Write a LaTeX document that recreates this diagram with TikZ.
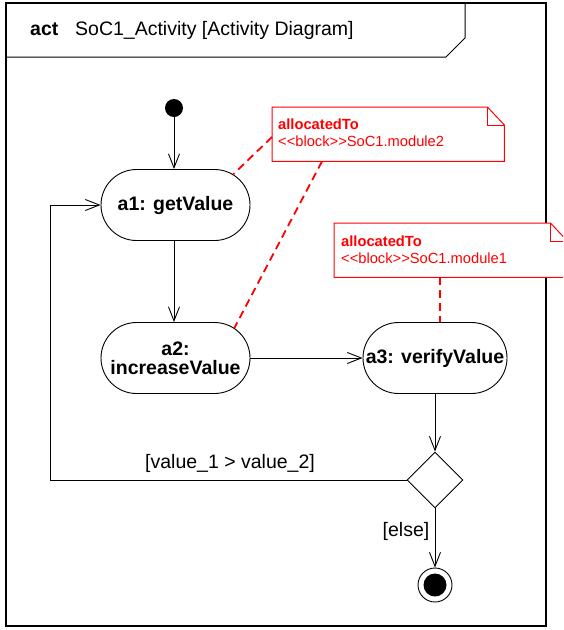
\documentclass[tikz,border=0pt]{standalone}
\usepackage{fontspec}
\setmainfont{Liberation Sans}
\usetikzlibrary{arrows.meta,shapes.geometric,shapes.misc,calc}

\tikzset{
  action/.style={rounded rectangle, draw, line width=0.9pt, minimum width=153pt,
    minimum height=71pt, inner sep=2pt, align=center,
    font=\fontsize{19.5}{21}\selectfont\bfseries},
  flow/.style={draw, line width=0.9pt, -{Straight Barb[length=14pt,width=11pt,line width=0.9pt]}},
  alloc/.style={draw=red, line width=1.8pt, dash pattern=on 8pt off 5pt},
  notebox/.style={draw=none, inner sep=0pt, anchor=north west},
  notetext/.style={anchor=base west, inner sep=0pt, text=red, font=\fontsize{14.7}{16}\selectfont},
  guard/.style={inner sep=0pt, font=\fontsize{19.5}{21}\selectfont},
}

\begin{document}
\begin{tikzpicture}[x=1pt,y=-1pt]
\useasboundingbox (0,0) rectangle (563,630);
\clip (0,0) rectangle (563,630);

% diagram frame and name tab
\draw[line width=1.2pt] (6,3) rectangle (546,626);
\draw[line width=1pt] (6,57) -- (446,57) -- (465,38) -- (465,3);
\node[anchor=base west, inner sep=0pt, font=\fontsize{19.5}{21}\selectfont\bfseries] (kw) at (30,35) {act};
\node[anchor=base west, inner sep=0pt, font=\fontsize{19.5}{21}\selectfont] (title) at (75,35) {SoC1\_Activity [Activity Diagram]};

% control nodes
\node[circle, fill=black, minimum size=18pt, inner sep=0pt] (init) at (174,108) {};
\node[action] (a1) at (175.5,205) {a1: getValue};
\node[action] (a2) at (175.5,358) {a2:\\[-2pt]increaseValue};
\node[action, minimum width=148pt] (a3) at (435,358) {a3: verifyValue};
\node[diamond, draw, line width=0.9pt, minimum width=56pt, minimum height=56pt, inner sep=0pt] (dec) at (435,480) {};
\node[circle, draw, line width=0.9pt, minimum size=34pt, inner sep=0pt] (fin) at (435,585) {};
\node[circle, fill=black, minimum size=23pt, inner sep=0pt] (finin) at (fin) {};

% control flows
\draw[flow] (init) -- (init |- a1.north);
\draw[flow] (a1.south -| init) -- (init |- a2.north);
\draw[flow] (a2.east) -- (a3.west);
\draw[flow] (a3.south) -- (dec.north);
\draw[flow] (dec.south) -- (fin.north);
\draw[flow] (dec.west) -- ++(-356,0) |- (a1.west);
\node[guard] (g1) at (230,463) {[value\_1 > value\_2]};
\node[guard] (g2) at (406,531) {[else]};

% allocation notes
\node[notebox, minimum width=232pt, minimum height=54pt] (n1) at (272,107) {};
\node[notebox, minimum width=233pt, minimum height=54pt] (n2) at (334,223) {};
\foreach \n in {n1,n2}{
  \draw[red, line width=1pt, fill=white]
    (\n.north west) -- ($(\n.north east)+(-17,0)$) -- ($(\n.north east)+(0,18)$)
    -- (\n.south east) -- (\n.south west) -- cycle;
  \draw[red, line width=1pt] ($(\n.north east)+(-17,0)$) |- ($(\n.north east)+(0,18)$);
}
\node[notetext, font=\fontsize{14.7}{16}\selectfont\bfseries] (n1a) at (278,129) {allocatedTo};
\node[notetext] (n1b) at (278,146) {<{}<block>{}>SoC1.module2};
\node[notetext, font=\fontsize{14.7}{16}\selectfont\bfseries] (n2a) at (341,246) {allocatedTo};
\node[notetext] (n2b) at (341,263) {<{}<block>{}>SoC1.module1};

% allocation links
\coordinate (n1l) at ($(n1.north west)+(0,30)$);
\coordinate (n1s) at ($(n1.south west)+(50,0)$);
\coordinate (n2s) at ($(n2.south west)+(106,0)$);
\draw[alloc] (n1l) -- (a1.28);
\draw[alloc] (n1s) -- (a2.27);
\draw[alloc] (n2s) -- (n2s |- a3.north);
\end{tikzpicture}
\end{document}
